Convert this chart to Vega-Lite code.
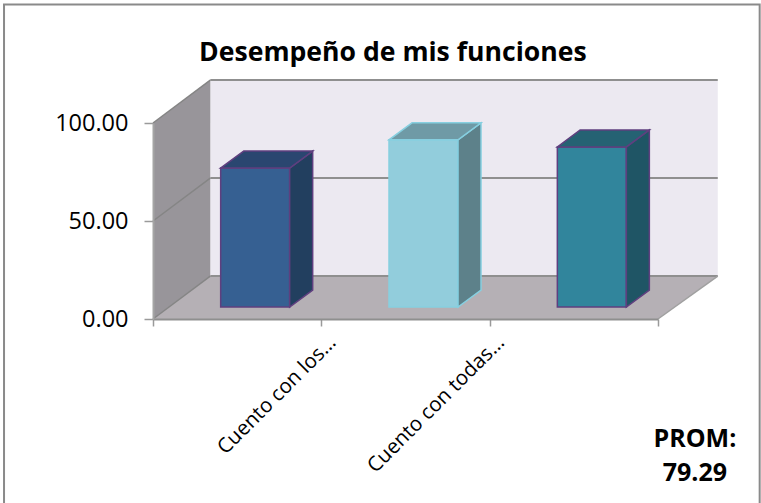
{
  "$schema": "https://vega.github.io/schema/vega-lite/v6.json",
  "width": 505,
  "height": 196,
  "autosize": {"type": "none"},
  "padding": {"left": 153, "top": 123, "right": 103, "bottom": 184},
  "background": "#ffffff",
  "view": {"stroke": null},
  "datasets": {
    "bars": [
      {"slot": 0, "value": 70.9},
      {"slot": 1, "value": 85.3},
      {"slot": 2, "value": 81.67}
    ],
    "room": [{"depth": 0}, {"depth": 1}],
    "levels": [{"level": 0}, {"level": 50}, {"level": 100}],
    "single": [{"part": "chart"}]
  },
  "resolve": {"scale": {"fill": "independent", "stroke": "independent"}},
  "layer": [
    {
      "data": {"name": "single"},
      "mark": {"type": "rect", "fill": null, "stroke": "#8a8a8a", "strokeWidth": 2},
      "encoding": {
        "x": {
          "datum": -0.885,
          "type": "quantitative",
          "scale": {"domain": [0, 3]},
          "axis": {
            "title": null,
            "values": [0, 1, 2, 3],
            "grid": false,
            "zindex": 1,
            "domainColor": "#8f8f8f",
            "domainWidth": 2,
            "tickColor": "#9a9a9a",
            "tickWidth": 1.5,
            "tickSize": 7,
            "labelFont": "Open Sans",
            "labelFontSize": 20.5,
            "labelColor": "#000000",
            "labelAngle": -45,
            "labelAlign": "right",
            "labelBaseline": "middle",
            "labelOffset": 11,
            "labelPadding": 13,
            "labelLimit": 400,
            "labelOverlap": false,
            "labelBound": false,
            "labelFlush": false,
            "labelExpr": "datum.value == 1 ? 'Cuento con los…' : datum.value == 2 ? 'Cuento con todas…' : ''"
          }
        },
        "x2": {"datum": 3.604},
        "y": {
          "datum": 160.5,
          "type": "quantitative",
          "scale": {"domain": [0, 100]},
          "axis": {
            "title": null,
            "values": [0, 50, 100],
            "format": ".2f",
            "grid": false,
            "zindex": 1,
            "domainColor": "#a5a5a5",
            "domainWidth": 2,
            "tickColor": "#9a9a9a",
            "tickWidth": 1.5,
            "tickSize": 9,
            "labelFont": "Open Sans",
            "labelFontSize": 23.5,
            "labelColor": "#000000",
            "labelPadding": 16
          }
        },
        "y2": {"datum": -98}
      }
    },
    {
      "data": {"name": "single"},
      "mark": {"type": "rect", "fill": "#ece9f1"},
      "encoding": {
        "x": {"datum": 0.3403, "type": "quantitative", "scale": {"domain": [0, 3]}},
        "x2": {"datum": 3.355},
        "y": {"datum": 21.9, "type": "quantitative", "scale": {"domain": [0, 100]}},
        "y2": {"datum": 121.9}
      }
    },
    {
      "data": {"name": "room"},
      "transform": [
        {"calculate": "datum.depth * 0.3403", "as": "run"},
        {"calculate": "datum.depth * 21.9", "as": "low"},
        {"calculate": "100 + datum.depth * 21.9", "as": "high"}
      ],
      "mark": {"type": "area", "fill": "#98959a", "orient": "vertical"},
      "encoding": {
        "x": {"field": "run", "type": "quantitative", "scale": {"domain": [0, 3]}},
        "y": {"field": "high", "type": "quantitative", "scale": {"domain": [0, 100]}},
        "y2": {"field": "low"}
      }
    },
    {
      "data": {"name": "room"},
      "transform": [
        {"calculate": "datum.depth * 0.3403", "as": "start"},
        {"calculate": "3 + datum.depth * 0.355", "as": "end"},
        {"calculate": "datum.depth * 21.9", "as": "low"}
      ],
      "mark": {"type": "area", "fill": "#b5b0b5", "orient": "horizontal"},
      "encoding": {
        "x": {"field": "start", "type": "quantitative", "scale": {"domain": [0, 3]}},
        "x2": {"field": "end"},
        "y": {"field": "low", "type": "quantitative", "scale": {"domain": [0, 100]}}
      }
    },
    {
      "data": {"name": "levels"},
      "transform": [
        {"calculate": "[0, 1]", "as": "depth"},
        {"flatten": ["depth"]},
        {"calculate": "datum.depth * 0.3403", "as": "run"},
        {"calculate": "datum.level + datum.depth * 21.9", "as": "rise"}
      ],
      "mark": {"type": "line", "stroke": "#858585", "strokeWidth": 1.5},
      "encoding": {
        "x": {"field": "run", "type": "quantitative", "scale": {"domain": [0, 3]}},
        "y": {"field": "rise", "type": "quantitative", "scale": {"domain": [0, 100]}},
        "detail": {"field": "level"}
      }
    },
    {
      "data": {"name": "levels"},
      "transform": [{"calculate": "datum.level + 21.9", "as": "rise"}],
      "mark": {"type": "rule", "stroke": "#8f8f8f", "strokeWidth": 2},
      "encoding": {
        "x": {"datum": 0.3403, "type": "quantitative", "scale": {"domain": [0, 3]}},
        "x2": {"datum": 3.355},
        "y": {"field": "rise", "type": "quantitative", "scale": {"domain": [0, 100]}}
      }
    },
    {
      "data": {"name": "room"},
      "transform": [
        {"calculate": "3 + datum.depth * 0.355", "as": "run"},
        {"calculate": "datum.depth * 21.9", "as": "rise"}
      ],
      "mark": {"type": "line", "stroke": "#a0a0a0", "strokeWidth": 1.5},
      "encoding": {
        "x": {"field": "run", "type": "quantitative", "scale": {"domain": [0, 3]}},
        "y": {"field": "rise", "type": "quantitative", "scale": {"domain": [0, 100]}}
      }
    },
    {
      "data": {"name": "bars"},
      "transform": [
        {"calculate": "datum.slot + 0.402", "as": "left"},
        {"calculate": "datum.slot + 0.812", "as": "right"},
        {"calculate": "6.1", "as": "base"},
        {"calculate": "6.1 + datum.value", "as": "top"}
      ],
      "mark": {"type": "rect", "strokeWidth": 1.5},
      "encoding": {
        "x": {"field": "left", "type": "quantitative", "scale": {"domain": [0, 3]}},
        "x2": {"field": "right"},
        "y": {"field": "top", "type": "quantitative", "scale": {"domain": [0, 100]}},
        "y2": {"field": "base"},
        "fill": {"field": "slot", "type": "nominal", "legend": null, "scale": {"domain": [0, 1, 2], "range": ["#366092", "#92cddc", "#31859c"]}},
        "stroke": {"field": "slot", "type": "nominal", "legend": null, "scale": {"domain": [0, 1, 2], "range": ["#5f3f7f", "#86cfe0", "#5f3f7f"]}}
      }
    },
    {
      "data": {"name": "bars"},
      "transform": [
        {"calculate": "[0, 1]", "as": "depth"},
        {"flatten": ["depth"]},
        {"calculate": "datum.slot + 0.812 + datum.depth * 0.1366", "as": "run"},
        {"calculate": "6.1 + datum.depth * 8.67", "as": "low"},
        {"calculate": "6.1 + datum.value + datum.depth * 8.67", "as": "high"}
      ],
      "mark": {"type": "area", "strokeWidth": 1.5, "orient": "vertical"},
      "encoding": {
        "x": {"field": "run", "type": "quantitative", "scale": {"domain": [0, 3]}},
        "y": {"field": "high", "type": "quantitative", "scale": {"domain": [0, 100]}},
        "y2": {"field": "low"},
        "detail": {"field": "slot"},
        "fill": {"field": "slot", "type": "nominal", "legend": null, "scale": {"domain": [0, 1, 2], "range": ["#223f5f", "#5d818a", "#1f5565"]}},
        "stroke": {"field": "slot", "type": "nominal", "legend": null, "scale": {"domain": [0, 1, 2], "range": ["#5f3f7f", "#86cfe0", "#5f3f7f"]}}
      }
    },
    {
      "data": {"name": "bars"},
      "transform": [
        {"calculate": "[0, 1]", "as": "depth"},
        {"flatten": ["depth"]},
        {"calculate": "datum.slot + 0.402 + datum.depth * 0.1366", "as": "start"},
        {"calculate": "datum.slot + 0.812 + datum.depth * 0.1366", "as": "end"},
        {"calculate": "6.1 + datum.value + datum.depth * 8.67", "as": "high"}
      ],
      "mark": {"type": "area", "strokeWidth": 1.5, "orient": "horizontal"},
      "encoding": {
        "x": {"field": "start", "type": "quantitative", "scale": {"domain": [0, 3]}},
        "x2": {"field": "end"},
        "y": {"field": "high", "type": "quantitative", "scale": {"domain": [0, 100]}},
        "detail": {"field": "slot"},
        "fill": {"field": "slot", "type": "nominal", "legend": null, "scale": {"domain": [0, 1, 2], "range": ["#2a4670", "#6f9aa6", "#256273"]}},
        "stroke": {"field": "slot", "type": "nominal", "legend": null, "scale": {"domain": [0, 1, 2], "range": ["#5f3f7f", "#86cfe0", "#5f3f7f"]}}
      }
    },
    {
      "data": {"values": [{"heading": "Desempeño de mis funciones"}]},
      "mark": {"type": "text", "font": "Open Sans", "fontSize": 26.6, "fontWeight": "bold", "color": "#000000", "align": "center", "baseline": "middle"},
      "encoding": {
        "text": {"field": "heading"},
        "x": {"datum": 1.425, "type": "quantitative", "scale": {"domain": [0, 3]}},
        "y": {"datum": 135.7, "type": "quantitative", "scale": {"domain": [0, 100]}}
      }
    },
    {
      "data": {"values": [{"note": "PROM:"}]},
      "mark": {"type": "text", "font": "Open Sans", "fontSize": 25, "fontWeight": "bold", "color": "#000000", "align": "center", "baseline": "middle"},
      "encoding": {
        "text": {"field": "note"},
        "x": {"datum": 3.219, "type": "quantitative", "scale": {"domain": [0, 3]}},
        "y": {"datum": -61, "type": "quantitative", "scale": {"domain": [0, 100]}}
      }
    },
    {
      "data": {"values": [{"note": "79.29"}]},
      "mark": {"type": "text", "font": "Open Sans", "fontSize": 25, "fontWeight": "bold", "color": "#000000", "align": "center", "baseline": "middle"},
      "encoding": {
        "text": {"field": "note"},
        "x": {"datum": 3.219, "type": "quantitative", "scale": {"domain": [0, 3]}},
        "y": {"datum": -78.8, "type": "quantitative", "scale": {"domain": [0, 100]}}
      }
    }
  ]
}
